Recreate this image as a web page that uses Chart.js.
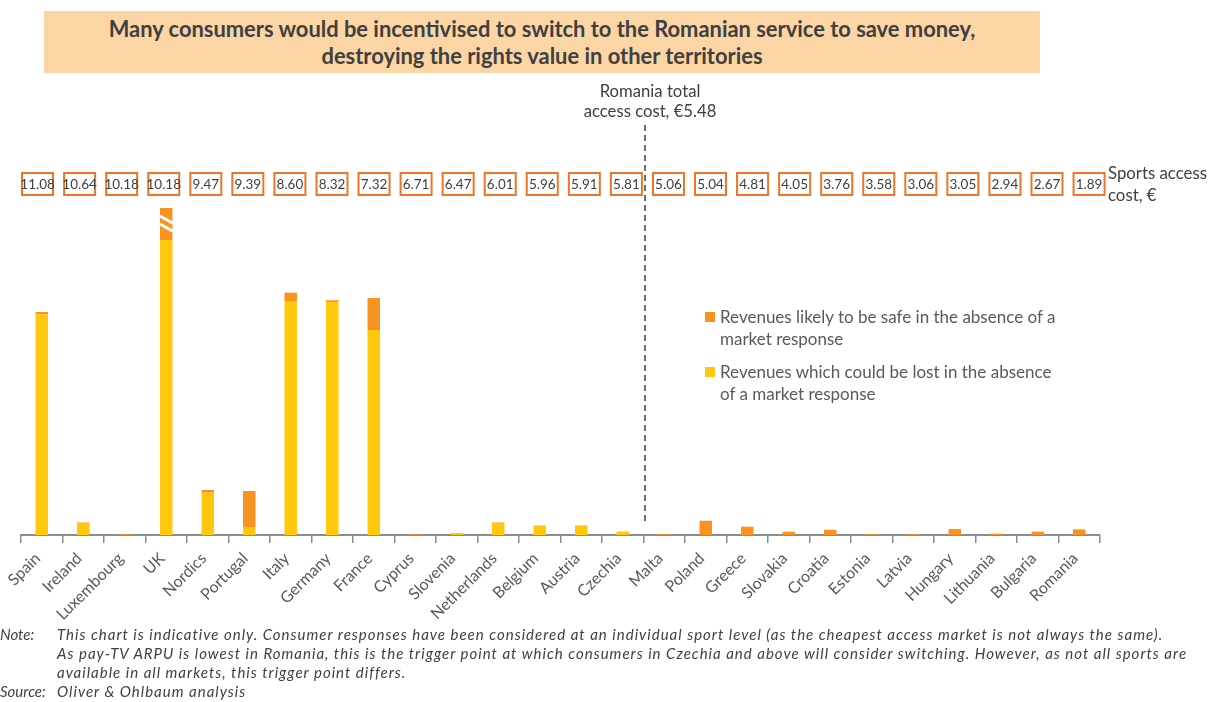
<!DOCTYPE html>
<html>
<head>
<meta charset="utf-8">
<script src="https://cdn.jsdelivr.net/npm/chart.js@4.4.1/dist/chart.umd.min.js"></script>
<style>
  body { margin: 0; background: #fff; }
  #wrap { position: relative; width: 1221px; height: 702px; overflow: hidden; font-family: Lato, "Open Sans", sans-serif; color: #404040; }
  #chart { position: absolute; left: 0; top: 0; }
  .title { position: absolute; left: 44px; top: 11px; width: 996px; height: 62px; background: #FCD5A5;
           font-weight: bold; font-size: 21.9px; line-height: 27px; text-align: center; padding-top: 4px; box-sizing: border-box; }
  .sports { position: absolute; left: 1108px; top: 162px; font-size: 16.8px; line-height: 22px; color: #404040; }
  .legend { position: absolute; left: 705px; top: 306px; font-size: 17px; line-height: 22px; color: #595959; }
  .legend .item { position: relative; padding-left: 15px; margin-bottom: 11px; }
  .legend .sw { position: absolute; left: 0; top: 6px; width: 10px; height: 10px; }
  .note { position: absolute; left: 0; font-style: italic; font-size: 15px; letter-spacing: 1px; line-height: 19px; color: #404040; font-family: Lato, sans-serif; }
  .note .lbl { position: absolute; left: 0; letter-spacing: 0; }
  .note .txt { position: absolute; left: 57px; width: 1160px; white-space: nowrap; }
</style>
</head>
<body>
<div id="wrap">
  <canvas id="chart" width="1221" height="702"></canvas>
  <div class="title">Many consumers would be incentivised to switch to the Romanian service to save money,<br>destroying the rights value in other territories</div>
  <div class="sports">Sports access<br>cost, €</div>
  <div class="legend">
    <div class="item"><span class="sw" style="background:#F7931E"></span>Revenues likely to be safe in the absence of a<br>market response</div>
    <div class="item"><span class="sw" style="background:#FFC80A"></span>Revenues which could be lost in the absence<br>of a market response</div>
  </div>
  <div class="note" style="top:625px"><span class="lbl">Note:</span><span class="txt">This chart is indicative only. Consumer responses have been considered at an individual sport level (as the cheapest access market is not always the same).<br>As pay-TV ARPU is lowest in Romania, this is the trigger point at which consumers in Czechia and above will consider switching. However, as not all sports are<br>available in all markets, this trigger point differs.</span></div>
  <div class="note" style="top:682px"><span class="lbl">Source:</span><span class="txt">Oliver &amp; Ohlbaum analysis</span></div>
</div>
<script>
// Datos
const categories = ['Spain', 'Ireland', 'Luxembourg', 'UK', 'Nordics', 'Portugal', 'Italy', 'Germany', 'France', 'Cyprus',
  'Slovenia', 'Netherlands', 'Belgium', 'Austria', 'Czechia', 'Malta', 'Poland', 'Greece', 'Slovakia', 'Croatia',
  'Estonia', 'Latvia', 'Hungary', 'Lithuania', 'Bulgaria', 'Romania'];
const lostRevenue = [220.7, 12, 0, 295, 42.3, 8, 234, 233, 205, 0, 2, 12, 9.6, 9.3, 3.5, 0, 0, 0, 0, 0, 0, 0, 0, 0, 0, 0];
const safeRevenue = [2.3, 0.5, 0.8, 32, 2.7, 36, 8.3, 1.7, 32, 0.8, 0, 0.5, 0, 0.3, 0, 0.8, 14.3, 8.3, 3.3, 5.3, 0.8, 0.8, 6, 1.3, 3.3, 5.6];
const accessCost = [11.08, 10.64, 10.18, 10.18, 9.47, 9.39, 8.60, 8.32, 7.32, 6.71, 6.47, 6.01, 5.96, 5.91, 5.81,
  5.06, 5.04, 4.81, 4.05, 3.76, 3.58, 3.06, 3.05, 2.94, 2.67, 1.89];
const romaniaCost = 5.48;
const triggerIndex = 14; // Czechia: la línea va justo después

// Cajas de coste, barra rota del UK y línea de Rumanía
const overlayPlugin = {
  id: 'overlay',
  afterDatasetsDraw(chart) {
    const ctx = chart.ctx;

    // marca de corte en la barra del UK
    const ukBar = chart.getDatasetMeta(1).data[categories.indexOf('UK')];
    const half = ukBar.width / 2;
    ctx.save();
    ctx.strokeStyle = '#fff';
    ctx.lineWidth = 3;
    [8, 16].forEach(off => {
      ctx.beginPath();
      ctx.moveTo(ukBar.x - half, ukBar.y + off);
      ctx.lineTo(ukBar.x + half, ukBar.y + off + 7);
      ctx.stroke();
    });
    ctx.restore();
  },
  afterDraw(chart) {
    const ctx = chart.ctx;
    const x = chart.scales.x;
    ctx.save();

    // cajas
    ctx.font = '13.5px Lato, "Open Sans", sans-serif';
    ctx.textAlign = 'center';
    ctx.textBaseline = 'middle';
    accessCost.forEach((v, i) => {
      const cx = x.getPixelForValue(i) - 4.2 + i * 0.56;
      ctx.fillStyle = '#fff';
      ctx.fillRect(cx - 15.5, 173, 31, 22);
      ctx.strokeStyle = '#EE7623';
      ctx.lineWidth = 2;
      ctx.strokeRect(cx - 15.5, 173, 31, 22);
      ctx.fillStyle = '#404040';
      ctx.fillText(v.toFixed(2), cx, 184.5);
    });

    // línea discontinua
    const lineX = (x.getPixelForValue(triggerIndex) + x.getPixelForValue(triggerIndex + 1)) / 2 + 1.5;
    ctx.strokeStyle = '#404040';
    ctx.lineWidth = 1.5;
    ctx.setLineDash([6, 4]);
    ctx.beginPath();
    ctx.moveTo(lineX, 125);
    ctx.lineTo(lineX, 524);
    ctx.stroke();
    ctx.setLineDash([]);

    ctx.font = '16.7px Lato, "Open Sans", sans-serif';
    ctx.fillStyle = '#404040';
    ctx.fillText('Romania total', lineX + 5, 92);
    ctx.fillText('access cost, €' + romaniaCost.toFixed(2), lineX + 5, 112);
    ctx.restore();
  }
};

const ctxMain = document.getElementById('chart').getContext('2d');
const mainChart = new Chart(ctxMain, {
  type: 'bar',
  data: {
    labels: categories,
    datasets: [{
      label: 'Revenues which could be lost in the absence of a market response',
      data: lostRevenue,
      backgroundColor: '#FFC80A',
      barPercentage: 0.3,
      categoryPercentage: 1
    }, {
      label: 'Revenues likely to be safe in the absence of a market response',
      data: safeRevenue,
      backgroundColor: '#F7931E',
      barPercentage: 0.3,
      categoryPercentage: 1
    }]
  },
  options: {
    responsive: false,
    animation: false,
    layout: { padding: { left: 21, right: 121, top: 200, bottom: 0 } },
    plugins: {
      legend: { display: false },
      tooltip: { enabled: false }
    },
    scales: {
      x: {
        stacked: true,
        afterFit: (scale) => { scale.height = 167; },
        grid: { drawOnChartArea: false, drawTicks: true, tickLength: 8, color: '#8c8c8c', lineWidth: 1.5 },
        border: { color: '#8c8c8c', width: 2 },
        ticks: {
          minRotation: 45,
          maxRotation: 45,
          autoSkip: false,
          padding: 6,
          labelOffset: -4,
          color: '#595959',
          font: { family: 'Lato, "Open Sans", sans-serif', size: 16 }
        }
      },
      y: {
        stacked: true,
        display: false,
        min: 0,
        max: 335
      }
    }
  },
  plugins: [overlayPlugin]
});
</script>
</body>
</html>
